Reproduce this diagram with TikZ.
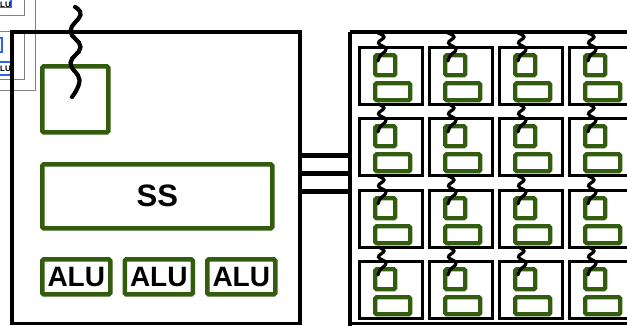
\documentclass[tikz,border=0pt]{standalone}
\usepackage{fontspec}
\setmainfont{Liberation Sans}
\definecolor{dgreen}{RGB}{50,92,14}
\definecolor{lblue}{RGB}{50,100,235}
\begin{document}
\begin{tikzpicture}[x=1pt,y=-1pt,
  blackbox/.style={draw=black,line width=3.2pt},
  greenbox/.style={draw=dgreen,line width=4.6pt,rounded corners=1.5pt},
  cellbox/.style={draw=black,line width=3pt},
  cellgreen/.style={draw=dgreen,line width=4.4pt,rounded corners=1.5pt,inner sep=0pt,anchor=north west},
  graybox/.style={draw=gray,line width=1pt},
  bluebox/.style={draw=lblue,line width=1.6pt},
  wave/.style={draw=black,line width=4.2pt,line cap=round},
  smallwave/.style={draw=black,line width=3.2pt,line cap=round},
  bus/.style={draw=black,line width=5pt},
  lbl/.style={font=\bfseries}]
\useasboundingbox (0,0) rectangle (627,325);
\clip (0,0) rectangle (627,325);
% background copies (gray, top-left)
\draw[graybox] (-20,-5) rectangle (24,15);
\node[bluebox,minimum width=20pt,minimum height=9pt,inner sep=0pt,anchor=east] (lbA) at (12,3) {};
\node[lbl,font=\bfseries\fontsize{8}{8}\selectfont,anchor=east,inner sep=0pt] (lbAt) at (11,5) {LU};
\draw[graybox] (-20,31) rectangle (24,79);
\draw[graybox] (-30,-5) -- (35,-5) -- (35,90) -- (-30,90);
\node[bluebox,minimum width=10pt,minimum height=14pt,inner sep=0pt,anchor=east] (lbB) at (3,45) {};
\node[bluebox,minimum width=20pt,minimum height=13pt,inner sep=0pt,anchor=east] (lbC) at (12,68.5) {};
\node[lbl,font=\bfseries\fontsize{8}{8}\selectfont,anchor=east,inner sep=0pt] (lbCt) at (11,69) {LU};
% main core box
\draw[blackbox] (12,32) rectangle (300,323.5);
\node[greenbox,minimum width=66pt,minimum height=66pt,inner sep=0pt,anchor=north west] (fetch) at (40,64) {};
\node[greenbox,minimum width=230pt,minimum height=64pt,inner sep=0pt,anchor=north west,lbl,font=\bfseries\fontsize{31}{31}\selectfont] (ss) at (40,162) {SS};
\foreach \i/\x in {1/40,2/122.5,3/205}{
  \node[greenbox,minimum width=68pt,minimum height=35pt,inner sep=0pt,anchor=north west,font=\bfseries\fontsize{28}{28}\selectfont] (alu\i) at (\x,257) {ALU};
}
% big wave
\draw[wave] plot[smooth,tension=0.75] coordinates {(75,7) (80.5,15) (70.5,31) (80.5,47) (70.5,63) (79.5,80) (72,97)};
% bus
\foreach \y in {155,173,191}{
  \draw[bus] (300,\y) -- (350,\y);
}
% right grid
\draw[blackbox] (350,32) -- (650,32);
\draw[blackbox] (350,32) -- (350,340);
\draw[blackbox] (350,323.5) -- (650,323.5);
\foreach \c/\x in {1/358,2/428,3/498,4/568}{
  \foreach \r/\y in {1/46,2/117,3/189,4/260}{
    \node[cellbox,minimum width=63pt,minimum height=57pt,inner sep=0pt,anchor=north west] (cell\c\r) at (\x,\y) {};
    \node[cellgreen,minimum width=20pt,minimum height=20pt] (sq\c\r) at (\x+15,\y+7) {};
    \node[cellgreen,minimum width=35pt,minimum height=17pt] (rc\c\r) at (\x+15,\y+35) {};
    \draw[smallwave] plot[smooth,tension=0.75] coordinates {(\x+20,\y-13) (\x+26,\y-9) (\x+20.5,\y-3) (\x+28,\y+3) (\x+22,\y+10) (\x+20,\y+15)};
  }
}
\end{tikzpicture}
\end{document}
